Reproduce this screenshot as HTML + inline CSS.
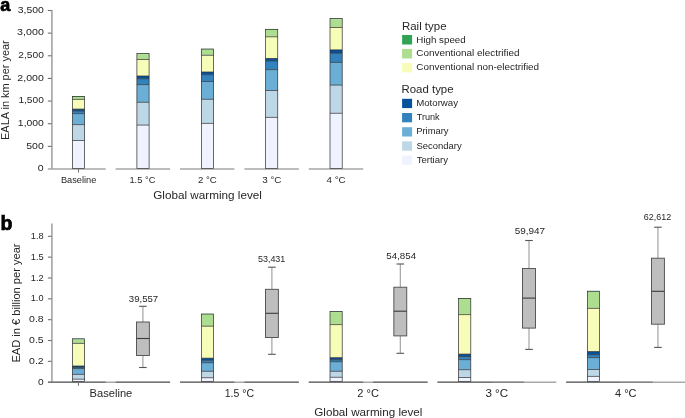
<!DOCTYPE html>
<html><head><meta charset="utf-8"><style>
html,body{margin:0;padding:0;background:#fff;}
body{width:685px;height:418px;overflow:hidden;}
svg{display:block;will-change:transform;}
text{font-family:"Liberation Sans", sans-serif;fill:#262626;}
</style></head><body>
<svg width="685" height="418" viewBox="0 0 685 418">
<text x="0.2" y="10.6" font-size="18" font-weight="bold" style="fill:#000;stroke:#000;stroke-width:0.7">a</text>
<line x1="51.9" y1="10" x2="51.9" y2="169" stroke="#adadad" stroke-width="1.8"/>
<line x1="47.8" y1="146.36" x2="51.6" y2="146.36" stroke="#707070" stroke-width="1.1"/>
<line x1="47.8" y1="123.71" x2="51.6" y2="123.71" stroke="#707070" stroke-width="1.1"/>
<line x1="47.8" y1="101.07" x2="51.6" y2="101.07" stroke="#707070" stroke-width="1.1"/>
<line x1="47.8" y1="78.43" x2="51.6" y2="78.43" stroke="#707070" stroke-width="1.1"/>
<line x1="47.8" y1="55.79" x2="51.6" y2="55.79" stroke="#707070" stroke-width="1.1"/>
<line x1="47.8" y1="33.14" x2="51.6" y2="33.14" stroke="#707070" stroke-width="1.1"/>
<line x1="47.8" y1="10.50" x2="51.6" y2="10.50" stroke="#707070" stroke-width="1.1"/>
<line x1="47.80" y1="169.0" x2="105.70" y2="169.0" stroke="#a6a6a6" stroke-width="1.7"/>
<line x1="115.67" y1="169.0" x2="170.07" y2="169.0" stroke="#a6a6a6" stroke-width="1.7"/>
<line x1="180.04" y1="169.0" x2="234.44" y2="169.0" stroke="#a6a6a6" stroke-width="1.7"/>
<line x1="244.41" y1="169.0" x2="298.81" y2="169.0" stroke="#a6a6a6" stroke-width="1.7"/>
<line x1="308.78" y1="169.0" x2="363.18" y2="169.0" stroke="#a6a6a6" stroke-width="1.7"/>
<line x1="78.5" y1="169" x2="78.5" y2="172.6" stroke="#707070" stroke-width="1"/>
<rect x="72.40" y="96.40" width="12.2" height="0.6" fill="#31a354"/>
<rect x="72.40" y="97.00" width="12.2" height="2.40" fill="#addd8e"/>
<rect x="72.40" y="99.40" width="12.2" height="9.70" fill="#f7fcb9"/>
<rect x="72.40" y="109.10" width="12.2" height="1.80" fill="#08519c"/>
<rect x="72.40" y="110.90" width="12.2" height="2.70" fill="#3182bd"/>
<rect x="72.40" y="113.60" width="12.2" height="11.00" fill="#6baed6"/>
<rect x="72.40" y="124.60" width="12.2" height="15.90" fill="#bdd7e7"/>
<rect x="72.40" y="140.50" width="12.2" height="28.10" fill="#eff3ff"/>
<line x1="72.40" y1="99.40" x2="84.60" y2="99.40" stroke="#2b2b2b" stroke-width="0.7"/>
<line x1="72.40" y1="109.10" x2="84.60" y2="109.10" stroke="#2b2b2b" stroke-width="0.7"/>
<line x1="72.40" y1="110.90" x2="84.60" y2="110.90" stroke="#2b2b2b" stroke-width="0.7"/>
<line x1="72.40" y1="113.60" x2="84.60" y2="113.60" stroke="#2b2b2b" stroke-width="0.7"/>
<line x1="72.40" y1="124.60" x2="84.60" y2="124.60" stroke="#2b2b2b" stroke-width="0.7"/>
<line x1="72.40" y1="140.50" x2="84.60" y2="140.50" stroke="#2b2b2b" stroke-width="0.7"/>
<rect x="72.40" y="96.40" width="12.2" height="72.20" fill="none" stroke="#2b2b2b" stroke-width="0.7"/>
<rect x="136.90" y="53.60" width="12.2" height="0.6" fill="#31a354"/>
<rect x="136.90" y="54.20" width="12.2" height="5.30" fill="#addd8e"/>
<rect x="136.90" y="59.50" width="12.2" height="16.50" fill="#f7fcb9"/>
<rect x="136.90" y="76.00" width="12.2" height="2.70" fill="#08519c"/>
<rect x="136.90" y="78.70" width="12.2" height="5.90" fill="#3182bd"/>
<rect x="136.90" y="84.60" width="12.2" height="17.70" fill="#6baed6"/>
<rect x="136.90" y="102.30" width="12.2" height="22.80" fill="#bdd7e7"/>
<rect x="136.90" y="125.10" width="12.2" height="43.50" fill="#eff3ff"/>
<line x1="136.90" y1="59.50" x2="149.10" y2="59.50" stroke="#2b2b2b" stroke-width="0.7"/>
<line x1="136.90" y1="76.00" x2="149.10" y2="76.00" stroke="#2b2b2b" stroke-width="0.7"/>
<line x1="136.90" y1="78.70" x2="149.10" y2="78.70" stroke="#2b2b2b" stroke-width="0.7"/>
<line x1="136.90" y1="84.60" x2="149.10" y2="84.60" stroke="#2b2b2b" stroke-width="0.7"/>
<line x1="136.90" y1="102.30" x2="149.10" y2="102.30" stroke="#2b2b2b" stroke-width="0.7"/>
<line x1="136.90" y1="125.10" x2="149.10" y2="125.10" stroke="#2b2b2b" stroke-width="0.7"/>
<rect x="136.90" y="53.60" width="12.2" height="115.00" fill="none" stroke="#2b2b2b" stroke-width="0.7"/>
<rect x="201.35" y="49.00" width="12.2" height="0.6" fill="#31a354"/>
<rect x="201.35" y="49.60" width="12.2" height="5.70" fill="#addd8e"/>
<rect x="201.35" y="55.30" width="12.2" height="16.70" fill="#f7fcb9"/>
<rect x="201.35" y="72.00" width="12.2" height="2.70" fill="#08519c"/>
<rect x="201.35" y="74.70" width="12.2" height="6.80" fill="#3182bd"/>
<rect x="201.35" y="81.50" width="12.2" height="17.80" fill="#6baed6"/>
<rect x="201.35" y="99.30" width="12.2" height="24.10" fill="#bdd7e7"/>
<rect x="201.35" y="123.40" width="12.2" height="45.20" fill="#eff3ff"/>
<line x1="201.35" y1="55.30" x2="213.55" y2="55.30" stroke="#2b2b2b" stroke-width="0.7"/>
<line x1="201.35" y1="72.00" x2="213.55" y2="72.00" stroke="#2b2b2b" stroke-width="0.7"/>
<line x1="201.35" y1="74.70" x2="213.55" y2="74.70" stroke="#2b2b2b" stroke-width="0.7"/>
<line x1="201.35" y1="81.50" x2="213.55" y2="81.50" stroke="#2b2b2b" stroke-width="0.7"/>
<line x1="201.35" y1="99.30" x2="213.55" y2="99.30" stroke="#2b2b2b" stroke-width="0.7"/>
<line x1="201.35" y1="123.40" x2="213.55" y2="123.40" stroke="#2b2b2b" stroke-width="0.7"/>
<rect x="201.35" y="49.00" width="12.2" height="119.60" fill="none" stroke="#2b2b2b" stroke-width="0.7"/>
<rect x="265.55" y="29.30" width="12.2" height="0.6" fill="#31a354"/>
<rect x="265.55" y="29.90" width="12.2" height="6.90" fill="#addd8e"/>
<rect x="265.55" y="36.80" width="12.2" height="21.70" fill="#f7fcb9"/>
<rect x="265.55" y="58.50" width="12.2" height="2.40" fill="#08519c"/>
<rect x="265.55" y="60.90" width="12.2" height="8.70" fill="#3182bd"/>
<rect x="265.55" y="69.60" width="12.2" height="20.90" fill="#6baed6"/>
<rect x="265.55" y="90.50" width="12.2" height="26.90" fill="#bdd7e7"/>
<rect x="265.55" y="117.40" width="12.2" height="51.20" fill="#eff3ff"/>
<line x1="265.55" y1="36.80" x2="277.75" y2="36.80" stroke="#2b2b2b" stroke-width="0.7"/>
<line x1="265.55" y1="58.50" x2="277.75" y2="58.50" stroke="#2b2b2b" stroke-width="0.7"/>
<line x1="265.55" y1="60.90" x2="277.75" y2="60.90" stroke="#2b2b2b" stroke-width="0.7"/>
<line x1="265.55" y1="69.60" x2="277.75" y2="69.60" stroke="#2b2b2b" stroke-width="0.7"/>
<line x1="265.55" y1="90.50" x2="277.75" y2="90.50" stroke="#2b2b2b" stroke-width="0.7"/>
<line x1="265.55" y1="117.40" x2="277.75" y2="117.40" stroke="#2b2b2b" stroke-width="0.7"/>
<rect x="265.55" y="29.30" width="12.2" height="139.30" fill="none" stroke="#2b2b2b" stroke-width="0.7"/>
<rect x="330.00" y="18.60" width="12.2" height="0.6" fill="#31a354"/>
<rect x="330.00" y="19.20" width="12.2" height="8.30" fill="#addd8e"/>
<rect x="330.00" y="27.50" width="12.2" height="22.40" fill="#f7fcb9"/>
<rect x="330.00" y="49.90" width="12.2" height="3.40" fill="#08519c"/>
<rect x="330.00" y="53.30" width="12.2" height="9.10" fill="#3182bd"/>
<rect x="330.00" y="62.40" width="12.2" height="22.70" fill="#6baed6"/>
<rect x="330.00" y="85.10" width="12.2" height="28.20" fill="#bdd7e7"/>
<rect x="330.00" y="113.30" width="12.2" height="55.30" fill="#eff3ff"/>
<line x1="330.00" y1="27.50" x2="342.20" y2="27.50" stroke="#2b2b2b" stroke-width="0.7"/>
<line x1="330.00" y1="49.90" x2="342.20" y2="49.90" stroke="#2b2b2b" stroke-width="0.7"/>
<line x1="330.00" y1="53.30" x2="342.20" y2="53.30" stroke="#2b2b2b" stroke-width="0.7"/>
<line x1="330.00" y1="62.40" x2="342.20" y2="62.40" stroke="#2b2b2b" stroke-width="0.7"/>
<line x1="330.00" y1="85.10" x2="342.20" y2="85.10" stroke="#2b2b2b" stroke-width="0.7"/>
<line x1="330.00" y1="113.30" x2="342.20" y2="113.30" stroke="#2b2b2b" stroke-width="0.7"/>
<rect x="330.00" y="18.60" width="12.2" height="150.00" fill="none" stroke="#2b2b2b" stroke-width="0.7"/>
<rect x="402.1" y="35.00" width="10" height="9.5" fill="#31a354"/>
<rect x="402.1" y="48.95" width="10" height="9.5" fill="#addd8e"/>
<rect x="402.1" y="62.90" width="10" height="9.5" fill="#f7fcb9"/>
<rect x="402.1" y="98.80" width="10" height="9.3" fill="#08519c"/>
<rect x="402.1" y="113.00" width="10" height="9.3" fill="#3182bd"/>
<rect x="402.1" y="127.20" width="10" height="9.3" fill="#6baed6"/>
<rect x="402.1" y="141.40" width="10" height="9.3" fill="#bdd7e7"/>
<rect x="402.1" y="155.60" width="10" height="9.3" fill="#eff3ff"/>
<text x="0.6" y="229.7" font-size="19.5" font-weight="bold" style="fill:#000;stroke:#000;stroke-width:0.7">b</text>
<line x1="51.9" y1="223.4" x2="51.9" y2="382" stroke="#adadad" stroke-width="1.8"/>
<line x1="47.9" y1="361.36" x2="51.6" y2="361.36" stroke="#707070" stroke-width="1.1"/>
<line x1="47.9" y1="340.51" x2="51.6" y2="340.51" stroke="#707070" stroke-width="1.1"/>
<line x1="47.9" y1="319.67" x2="51.6" y2="319.67" stroke="#707070" stroke-width="1.1"/>
<line x1="47.9" y1="298.83" x2="51.6" y2="298.83" stroke="#707070" stroke-width="1.1"/>
<line x1="47.9" y1="277.99" x2="51.6" y2="277.99" stroke="#707070" stroke-width="1.1"/>
<line x1="47.9" y1="257.14" x2="51.6" y2="257.14" stroke="#707070" stroke-width="1.1"/>
<line x1="47.9" y1="236.30" x2="51.6" y2="236.30" stroke="#707070" stroke-width="1.1"/>
<line x1="48.00" y1="382.3" x2="170.07" y2="382.3" stroke="#a8a8a8" stroke-width="1.6"/>
<line x1="48.00" y1="382.3" x2="105.70" y2="382.3" stroke="#767676" stroke-width="1.6"/>
<line x1="115.67" y1="382.3" x2="170.07" y2="382.3" stroke="#767676" stroke-width="1.6"/>
<line x1="180.04" y1="382.3" x2="298.81" y2="382.3" stroke="#a8a8a8" stroke-width="1.6"/>
<line x1="180.04" y1="382.3" x2="234.44" y2="382.3" stroke="#767676" stroke-width="1.6"/>
<line x1="244.41" y1="382.3" x2="298.81" y2="382.3" stroke="#767676" stroke-width="1.6"/>
<line x1="308.78" y1="382.3" x2="427.55" y2="382.3" stroke="#a8a8a8" stroke-width="1.6"/>
<line x1="308.78" y1="382.3" x2="363.18" y2="382.3" stroke="#767676" stroke-width="1.6"/>
<line x1="373.15" y1="382.3" x2="427.55" y2="382.3" stroke="#767676" stroke-width="1.6"/>
<line x1="437.52" y1="382.3" x2="556.29" y2="382.3" stroke="#a8a8a8" stroke-width="1.6"/>
<line x1="437.52" y1="382.3" x2="491.92" y2="382.3" stroke="#767676" stroke-width="1.6"/>
<line x1="491.92" y1="382.3" x2="523.89" y2="382.3" stroke="#858585" stroke-width="1.6"/>
<line x1="566.26" y1="382.3" x2="685.03" y2="382.3" stroke="#a8a8a8" stroke-width="1.6"/>
<line x1="566.26" y1="382.3" x2="620.66" y2="382.3" stroke="#767676" stroke-width="1.6"/>
<line x1="620.66" y1="382.3" x2="652.63" y2="382.3" stroke="#858585" stroke-width="1.6"/>
<line x1="78.4" y1="382" x2="78.4" y2="385.8" stroke="#707070" stroke-width="1"/>
<rect x="72.40" y="338.80" width="12.2" height="0.6" fill="#31a354"/>
<rect x="72.40" y="339.40" width="12.2" height="4.00" fill="#addd8e"/>
<rect x="72.40" y="343.40" width="12.2" height="22.60" fill="#f7fcb9"/>
<rect x="72.40" y="366.00" width="12.2" height="1.40" fill="#08519c"/>
<rect x="72.40" y="367.40" width="12.2" height="1.20" fill="#3182bd"/>
<rect x="72.40" y="368.60" width="12.2" height="5.80" fill="#6baed6"/>
<rect x="72.40" y="374.40" width="12.2" height="4.80" fill="#bdd7e7"/>
<rect x="72.40" y="379.20" width="12.2" height="2.40" fill="#eff3ff"/>
<line x1="72.40" y1="343.40" x2="84.60" y2="343.40" stroke="#2b2b2b" stroke-width="0.7"/>
<line x1="72.40" y1="366.00" x2="84.60" y2="366.00" stroke="#2b2b2b" stroke-width="0.7"/>
<line x1="72.40" y1="367.40" x2="84.60" y2="367.40" stroke="#2b2b2b" stroke-width="0.7"/>
<line x1="72.40" y1="368.60" x2="84.60" y2="368.60" stroke="#2b2b2b" stroke-width="0.7"/>
<line x1="72.40" y1="374.40" x2="84.60" y2="374.40" stroke="#2b2b2b" stroke-width="0.7"/>
<line x1="72.40" y1="379.20" x2="84.60" y2="379.20" stroke="#2b2b2b" stroke-width="0.7"/>
<rect x="72.40" y="338.80" width="12.2" height="42.80" fill="none" stroke="#2b2b2b" stroke-width="0.7"/>
<rect x="201.35" y="314.00" width="12.2" height="0.6" fill="#31a354"/>
<rect x="201.35" y="314.60" width="12.2" height="11.60" fill="#addd8e"/>
<rect x="201.35" y="326.20" width="12.2" height="32.00" fill="#f7fcb9"/>
<rect x="201.35" y="358.20" width="12.2" height="2.10" fill="#08519c"/>
<rect x="201.35" y="360.30" width="12.2" height="2.40" fill="#3182bd"/>
<rect x="201.35" y="362.70" width="12.2" height="8.60" fill="#6baed6"/>
<rect x="201.35" y="371.30" width="12.2" height="6.40" fill="#bdd7e7"/>
<rect x="201.35" y="377.70" width="12.2" height="3.90" fill="#eff3ff"/>
<line x1="201.35" y1="326.20" x2="213.55" y2="326.20" stroke="#2b2b2b" stroke-width="0.7"/>
<line x1="201.35" y1="358.20" x2="213.55" y2="358.20" stroke="#2b2b2b" stroke-width="0.7"/>
<line x1="201.35" y1="360.30" x2="213.55" y2="360.30" stroke="#2b2b2b" stroke-width="0.7"/>
<line x1="201.35" y1="362.70" x2="213.55" y2="362.70" stroke="#2b2b2b" stroke-width="0.7"/>
<line x1="201.35" y1="371.30" x2="213.55" y2="371.30" stroke="#2b2b2b" stroke-width="0.7"/>
<line x1="201.35" y1="377.70" x2="213.55" y2="377.70" stroke="#2b2b2b" stroke-width="0.7"/>
<rect x="201.35" y="314.00" width="12.2" height="67.60" fill="none" stroke="#2b2b2b" stroke-width="0.7"/>
<rect x="330.00" y="311.50" width="12.2" height="0.6" fill="#31a354"/>
<rect x="330.00" y="312.10" width="12.2" height="12.50" fill="#addd8e"/>
<rect x="330.00" y="324.60" width="12.2" height="33.10" fill="#f7fcb9"/>
<rect x="330.00" y="357.70" width="12.2" height="2.00" fill="#08519c"/>
<rect x="330.00" y="359.70" width="12.2" height="2.00" fill="#3182bd"/>
<rect x="330.00" y="361.70" width="12.2" height="9.60" fill="#6baed6"/>
<rect x="330.00" y="371.30" width="12.2" height="6.00" fill="#bdd7e7"/>
<rect x="330.00" y="377.30" width="12.2" height="4.30" fill="#eff3ff"/>
<line x1="330.00" y1="324.60" x2="342.20" y2="324.60" stroke="#2b2b2b" stroke-width="0.7"/>
<line x1="330.00" y1="357.70" x2="342.20" y2="357.70" stroke="#2b2b2b" stroke-width="0.7"/>
<line x1="330.00" y1="359.70" x2="342.20" y2="359.70" stroke="#2b2b2b" stroke-width="0.7"/>
<line x1="330.00" y1="361.70" x2="342.20" y2="361.70" stroke="#2b2b2b" stroke-width="0.7"/>
<line x1="330.00" y1="371.30" x2="342.20" y2="371.30" stroke="#2b2b2b" stroke-width="0.7"/>
<line x1="330.00" y1="377.30" x2="342.20" y2="377.30" stroke="#2b2b2b" stroke-width="0.7"/>
<rect x="330.00" y="311.50" width="12.2" height="70.10" fill="none" stroke="#2b2b2b" stroke-width="0.7"/>
<rect x="458.60" y="298.40" width="12.2" height="0.6" fill="#31a354"/>
<rect x="458.60" y="299.00" width="12.2" height="15.60" fill="#addd8e"/>
<rect x="458.60" y="314.60" width="12.2" height="39.50" fill="#f7fcb9"/>
<rect x="458.60" y="354.10" width="12.2" height="2.40" fill="#08519c"/>
<rect x="458.60" y="356.50" width="12.2" height="3.10" fill="#3182bd"/>
<rect x="458.60" y="359.60" width="12.2" height="10.10" fill="#6baed6"/>
<rect x="458.60" y="369.70" width="12.2" height="7.80" fill="#bdd7e7"/>
<rect x="458.60" y="377.50" width="12.2" height="4.10" fill="#eff3ff"/>
<line x1="458.60" y1="314.60" x2="470.80" y2="314.60" stroke="#2b2b2b" stroke-width="0.7"/>
<line x1="458.60" y1="354.10" x2="470.80" y2="354.10" stroke="#2b2b2b" stroke-width="0.7"/>
<line x1="458.60" y1="356.50" x2="470.80" y2="356.50" stroke="#2b2b2b" stroke-width="0.7"/>
<line x1="458.60" y1="359.60" x2="470.80" y2="359.60" stroke="#2b2b2b" stroke-width="0.7"/>
<line x1="458.60" y1="369.70" x2="470.80" y2="369.70" stroke="#2b2b2b" stroke-width="0.7"/>
<line x1="458.60" y1="377.50" x2="470.80" y2="377.50" stroke="#2b2b2b" stroke-width="0.7"/>
<rect x="458.60" y="298.40" width="12.2" height="83.20" fill="none" stroke="#2b2b2b" stroke-width="0.7"/>
<rect x="587.35" y="291.20" width="12.2" height="0.6" fill="#31a354"/>
<rect x="587.35" y="291.80" width="12.2" height="16.60" fill="#addd8e"/>
<rect x="587.35" y="308.40" width="12.2" height="43.20" fill="#f7fcb9"/>
<rect x="587.35" y="351.60" width="12.2" height="3.10" fill="#08519c"/>
<rect x="587.35" y="354.70" width="12.2" height="2.90" fill="#3182bd"/>
<rect x="587.35" y="357.60" width="12.2" height="11.90" fill="#6baed6"/>
<rect x="587.35" y="369.50" width="12.2" height="6.90" fill="#bdd7e7"/>
<rect x="587.35" y="376.40" width="12.2" height="5.20" fill="#eff3ff"/>
<line x1="587.35" y1="308.40" x2="599.55" y2="308.40" stroke="#2b2b2b" stroke-width="0.7"/>
<line x1="587.35" y1="351.60" x2="599.55" y2="351.60" stroke="#2b2b2b" stroke-width="0.7"/>
<line x1="587.35" y1="354.70" x2="599.55" y2="354.70" stroke="#2b2b2b" stroke-width="0.7"/>
<line x1="587.35" y1="357.60" x2="599.55" y2="357.60" stroke="#2b2b2b" stroke-width="0.7"/>
<line x1="587.35" y1="369.50" x2="599.55" y2="369.50" stroke="#2b2b2b" stroke-width="0.7"/>
<line x1="587.35" y1="376.40" x2="599.55" y2="376.40" stroke="#2b2b2b" stroke-width="0.7"/>
<rect x="587.35" y="291.20" width="12.2" height="90.40" fill="none" stroke="#2b2b2b" stroke-width="0.7"/>
<line x1="142.90" y1="306.3" x2="142.90" y2="322.0" stroke="#9c9c9c" stroke-width="1.1"/>
<line x1="142.90" y1="355.5" x2="142.90" y2="367.5" stroke="#9c9c9c" stroke-width="1.1"/>
<line x1="139.10" y1="306.3" x2="146.70" y2="306.3" stroke="#555" stroke-width="1.1"/>
<line x1="139.10" y1="367.5" x2="146.70" y2="367.5" stroke="#555" stroke-width="1.1"/>
<rect x="136.45" y="322.0" width="12.9" height="33.50" fill="#bebebe" stroke="#4a4a4a" stroke-width="0.9"/>
<line x1="136.45" y1="338.5" x2="149.35" y2="338.5" stroke="#3a3a3a" stroke-width="1.1"/>
<line x1="271.90" y1="267.2" x2="271.90" y2="289.3" stroke="#9c9c9c" stroke-width="1.1"/>
<line x1="271.90" y1="337.5" x2="271.90" y2="354.3" stroke="#9c9c9c" stroke-width="1.1"/>
<line x1="268.10" y1="267.2" x2="275.70" y2="267.2" stroke="#555" stroke-width="1.1"/>
<line x1="268.10" y1="354.3" x2="275.70" y2="354.3" stroke="#555" stroke-width="1.1"/>
<rect x="265.45" y="289.3" width="12.9" height="48.20" fill="#bebebe" stroke="#4a4a4a" stroke-width="0.9"/>
<line x1="265.45" y1="313.3" x2="278.35" y2="313.3" stroke="#3a3a3a" stroke-width="1.1"/>
<line x1="400.30" y1="264.0" x2="400.30" y2="287.2" stroke="#9c9c9c" stroke-width="1.1"/>
<line x1="400.30" y1="335.9" x2="400.30" y2="353.3" stroke="#9c9c9c" stroke-width="1.1"/>
<line x1="396.50" y1="264.0" x2="404.10" y2="264.0" stroke="#555" stroke-width="1.1"/>
<line x1="396.50" y1="353.3" x2="404.10" y2="353.3" stroke="#555" stroke-width="1.1"/>
<rect x="393.85" y="287.2" width="12.9" height="48.70" fill="#bebebe" stroke="#4a4a4a" stroke-width="0.9"/>
<line x1="393.85" y1="311.2" x2="406.75" y2="311.2" stroke="#3a3a3a" stroke-width="1.1"/>
<line x1="529.00" y1="240.5" x2="529.00" y2="268.5" stroke="#9c9c9c" stroke-width="1.1"/>
<line x1="529.00" y1="328.1" x2="529.00" y2="349.4" stroke="#9c9c9c" stroke-width="1.1"/>
<line x1="525.20" y1="240.5" x2="532.80" y2="240.5" stroke="#555" stroke-width="1.1"/>
<line x1="525.20" y1="349.4" x2="532.80" y2="349.4" stroke="#555" stroke-width="1.1"/>
<rect x="522.55" y="268.5" width="12.9" height="59.60" fill="#bebebe" stroke="#4a4a4a" stroke-width="0.9"/>
<line x1="522.55" y1="298.1" x2="535.45" y2="298.1" stroke="#3a3a3a" stroke-width="1.1"/>
<line x1="657.95" y1="227.2" x2="657.95" y2="258.2" stroke="#9c9c9c" stroke-width="1.1"/>
<line x1="657.95" y1="324.2" x2="657.95" y2="347.4" stroke="#9c9c9c" stroke-width="1.1"/>
<line x1="654.15" y1="227.2" x2="661.75" y2="227.2" stroke="#555" stroke-width="1.1"/>
<line x1="654.15" y1="347.4" x2="661.75" y2="347.4" stroke="#555" stroke-width="1.1"/>
<rect x="651.50" y="258.2" width="12.9" height="66.00" fill="#bebebe" stroke="#4a4a4a" stroke-width="0.9"/>
<line x1="651.50" y1="291.3" x2="664.40" y2="291.3" stroke="#3a3a3a" stroke-width="1.1"/>
<text x="37.89" y="171.30" font-size="9.6" textLength="5.89" lengthAdjust="spacingAndGlyphs">0</text>
<text x="26.29" y="148.66" font-size="9.6" textLength="17.54" lengthAdjust="spacingAndGlyphs">500</text>
<text x="17.89" y="126.01" font-size="9.6" textLength="25.93" lengthAdjust="spacingAndGlyphs">1,000</text>
<text x="18.41" y="103.37" font-size="9.6" textLength="25.41" lengthAdjust="spacingAndGlyphs">1,500</text>
<text x="17.35" y="80.73" font-size="9.6" textLength="26.48" lengthAdjust="spacingAndGlyphs">2,000</text>
<text x="18.27" y="58.09" font-size="9.6" textLength="25.55" lengthAdjust="spacingAndGlyphs">2,500</text>
<text x="17.08" y="35.44" font-size="9.6" textLength="26.75" lengthAdjust="spacingAndGlyphs">3,000</text>
<text x="17.79" y="12.80" font-size="9.6" textLength="26.03" lengthAdjust="spacingAndGlyphs">3,500</text>
<text x="60.95" y="182.90" font-size="9.3" textLength="35.47" lengthAdjust="spacingAndGlyphs">Baseline</text>
<text x="129.45" y="182.90" font-size="9.3" textLength="26.01" lengthAdjust="spacingAndGlyphs">1.5 °C</text>
<text x="197.98" y="182.90" font-size="9.3" textLength="18.87" lengthAdjust="spacingAndGlyphs">2 °C</text>
<text x="262.20" y="182.90" font-size="9.3" textLength="19.26" lengthAdjust="spacingAndGlyphs">3 °C</text>
<text x="326.54" y="182.90" font-size="9.3" textLength="19.12" lengthAdjust="spacingAndGlyphs">4 °C</text>
<text x="153.27" y="198.60" font-size="11.6" textLength="108.69" lengthAdjust="spacingAndGlyphs">Global warming level</text>
<text transform="translate(9.00,139.93) rotate(-90)" x="0" y="0" font-size="10.3" textLength="99.65" lengthAdjust="spacingAndGlyphs">EALA in km per year</text>
<text x="401.95" y="29.90" font-size="10.5" textLength="44.58" lengthAdjust="spacingAndGlyphs">Rail type</text>
<text x="416.35" y="42.70" font-size="9.7" textLength="49.30" lengthAdjust="spacingAndGlyphs">High speed</text>
<text x="416.39" y="56.30" font-size="9.7" textLength="103.20" lengthAdjust="spacingAndGlyphs">Conventional electrified</text>
<text x="416.39" y="70.20" font-size="9.7" textLength="122.72" lengthAdjust="spacingAndGlyphs">Conventional non-electrified</text>
<text x="401.55" y="93.40" font-size="10.5" textLength="51.99" lengthAdjust="spacingAndGlyphs">Road type</text>
<text x="416.15" y="105.80" font-size="9.7" textLength="41.95" lengthAdjust="spacingAndGlyphs">Motorway</text>
<text x="416.66" y="119.80" font-size="9.7" textLength="22.96" lengthAdjust="spacingAndGlyphs">Trunk</text>
<text x="416.17" y="134.10" font-size="9.7" textLength="32.43" lengthAdjust="spacingAndGlyphs">Primary</text>
<text x="416.41" y="148.60" font-size="9.7" textLength="45.37" lengthAdjust="spacingAndGlyphs">Secondary</text>
<text x="416.65" y="162.80" font-size="9.7" textLength="31.36" lengthAdjust="spacingAndGlyphs">Tertiary</text>
<text x="37.90" y="384.80" font-size="9.6" textLength="5.66" lengthAdjust="spacingAndGlyphs">0</text>
<text x="29.09" y="363.96" font-size="9.6" textLength="14.62" lengthAdjust="spacingAndGlyphs">0.2</text>
<text x="29.09" y="343.11" font-size="9.6" textLength="14.62" lengthAdjust="spacingAndGlyphs">0.5</text>
<text x="29.09" y="322.27" font-size="9.6" textLength="14.62" lengthAdjust="spacingAndGlyphs">0.8</text>
<text x="30.78" y="301.43" font-size="9.6" textLength="12.74" lengthAdjust="spacingAndGlyphs">1.0</text>
<text x="30.78" y="280.59" font-size="9.6" textLength="12.88" lengthAdjust="spacingAndGlyphs">1.2</text>
<text x="30.78" y="259.74" font-size="9.6" textLength="12.88" lengthAdjust="spacingAndGlyphs">1.5</text>
<text x="30.78" y="238.90" font-size="9.6" textLength="12.88" lengthAdjust="spacingAndGlyphs">1.8</text>
<text x="128.82" y="301.90" font-size="9.6" textLength="29.34" lengthAdjust="spacingAndGlyphs">39,557</text>
<text x="257.95" y="261.60" font-size="9.6" textLength="27.39" lengthAdjust="spacingAndGlyphs">53,431</text>
<text x="386.32" y="258.60" font-size="9.6" textLength="29.83" lengthAdjust="spacingAndGlyphs">54,854</text>
<text x="514.71" y="233.80" font-size="9.6" textLength="30.37" lengthAdjust="spacingAndGlyphs">59,947</text>
<text x="643.83" y="219.80" font-size="9.6" textLength="27.40" lengthAdjust="spacingAndGlyphs">62,612</text>
<text x="89.60" y="396.80" font-size="10.8" textLength="42.66" lengthAdjust="spacingAndGlyphs">Baseline</text>
<text x="224.75" y="396.80" font-size="10.8" textLength="29.34" lengthAdjust="spacingAndGlyphs">1.5 °C</text>
<text x="357.39" y="396.80" font-size="10.8" textLength="21.62" lengthAdjust="spacingAndGlyphs">2 °C</text>
<text x="485.40" y="396.80" font-size="10.8" textLength="22.74" lengthAdjust="spacingAndGlyphs">3 °C</text>
<text x="614.94" y="396.80" font-size="10.8" textLength="21.57" lengthAdjust="spacingAndGlyphs">4 °C</text>
<text x="314.27" y="416.10" font-size="11.6" textLength="108.08" lengthAdjust="spacingAndGlyphs">Global warming level</text>
<text transform="translate(20.30,362.54) rotate(-90)" x="0" y="0" font-size="10.3" textLength="119.08" lengthAdjust="spacingAndGlyphs">EAD in € billion per year</text>
</svg>
</body></html>
